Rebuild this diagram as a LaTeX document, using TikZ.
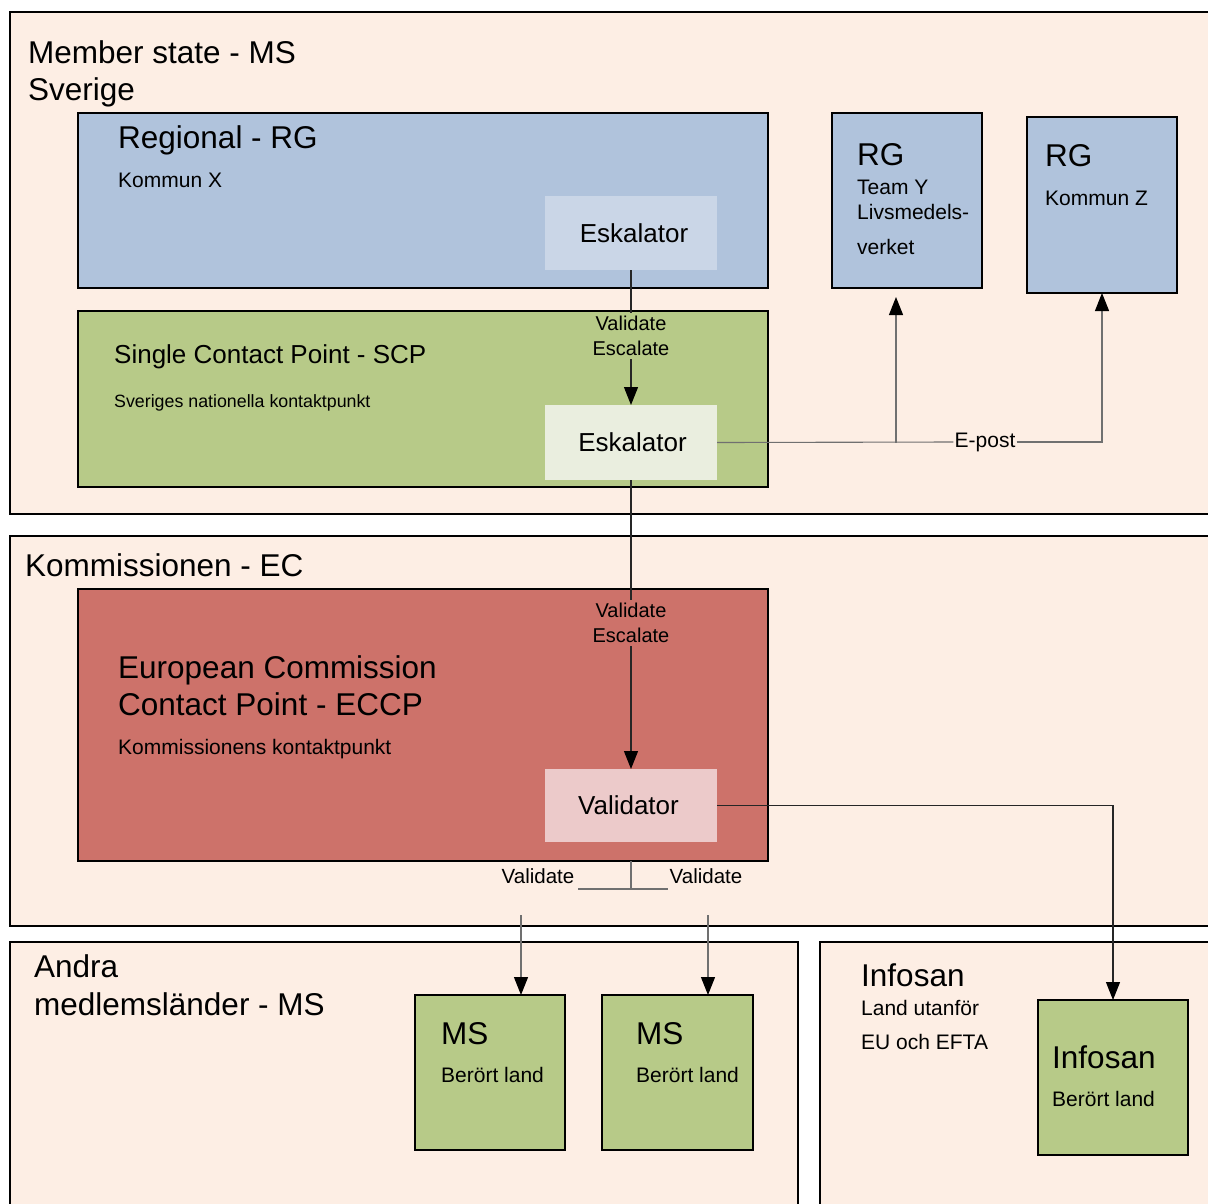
\documentclass[tikz,border=0pt]{standalone}
\usepackage{fontspec}
\setmainfont{Liberation Sans}
\usetikzlibrary{arrows.meta}
\definecolor{peach}{HTML}{FDEEE4}
\definecolor{rgblue}{HTML}{B0C3DC}
\definecolor{rgblight}{HTML}{CAD6E7}
\definecolor{scpgreen}{HTML}{B7CA88}
\definecolor{greenlight}{HTML}{EAEEDF}
\definecolor{ecred}{HTML}{CD726A}
\definecolor{redlight}{HTML}{ECCACA}
\definecolor{lgrey}{HTML}{707070}
\begin{document}
\begin{tikzpicture}[x=1pt,y=-1pt,
  area/.style={draw=black, line width=1.5pt, fill=peach, anchor=north west, inner sep=0pt, outer sep=0pt},
  box/.style={draw=black, line width=1.5pt, anchor=north west, inner sep=0pt, outer sep=0pt},
  sub/.style={anchor=north west, inner sep=0pt, outer sep=0pt, font=\fontsize{26}{31}\selectfont},
  big/.style={anchor=base west, inner sep=0pt, font=\fontsize{31.5}{38}\selectfont},
  mid/.style={anchor=base west, inner sep=0pt, font=\fontsize{26}{31}\selectfont},
  small/.style={anchor=base west, inner sep=0pt, font=\fontsize{21}{25}\selectfont},
  tiny/.style={anchor=base west, inner sep=0pt, font=\fontsize{17.8}{21}\selectfont},
  flowlbl/.style={align=center, inner sep=3pt, font=\fontsize{20}{25}\selectfont},
  conn/.style={draw=black!85, line width=1.1pt},
  gconn/.style={draw=lgrey, line width=1.1pt},
  tip/.style={-{Triangle[length=18pt,width=14pt,color=black]}}
]
\clip (0,0) rectangle (1208,1203);
\fill[white] (0,0) rectangle (1208,1203);

% outer areas
\node[area, minimum width=1220pt, minimum height=502pt] (msarea) at (10,12) {};
\node[area, minimum width=1220pt, minimum height=390pt] (ecarea) at (10,536) {};
\node[area, minimum width=788pt, minimum height=320pt] (andraarea) at (10,942) {};
\node[area, minimum width=400pt, minimum height=320pt] (infarea) at (820,942) {};

\node[big] (t1) at (28,63) {Member state - MS};
\node[big] (t2) at (28,100) {Sverige};
\node[big] (t3) at (25,576) {Kommissionen - EC};
\node[big] (t4) at (34,977) {Andra};
\node[big] (t5) at (34,1015) {medlemsländer - MS};
\node[big] (t6) at (861,986) {Infosan};
\node[small] (t7) at (861,1015) {Land utanför};
\node[small] (t8) at (861,1049) {EU och EFTA};

% regional
\node[box, fill=rgblue, minimum width=690pt, minimum height=175pt] (rg) at (78,113) {};
\node[big] (rgt) at (118,148) {Regional - RG};
\node[small] (rgs) at (118,187) {Kommun X};
\node[sub, fill=rgblight, minimum width=172pt, minimum height=74pt, text depth=0pt] (esk1) at (545,196) {\hspace*{6pt}Eskalator};

% SCP
\node[box, fill=scpgreen, minimum width=690pt, minimum height=176pt] (scp) at (78,311) {};
\node[mid] (scpt) at (114,363) {Single Contact Point - SCP};
\node[tiny] (scps) at (114,407) {Sveriges nationella kontaktpunkt};
\node[sub, fill=greenlight, minimum width=172pt, minimum height=75pt] (esk2) at (545,405) {\hspace*{3pt}Eskalator};

% RG boxes right
\node[box, fill=rgblue, minimum width=150pt, minimum height=175pt] (rgy) at (832,113) {};
\node[big] (rgyt) at (857,165) {RG};
\node[small] (rgy1) at (857,194) {Team Y};
\node[small] (rgy2) at (857,219) {Livsmedels-};
\node[small] (rgy3) at (857,254) {verket};
\node[box, fill=rgblue, minimum width=150pt, minimum height=176pt] (rgz) at (1027,117) {};
\node[big] (rgzt) at (1045,166) {RG};
\node[small] (rgz1) at (1045,205) {Kommun Z};

% ECCP
\node[box, fill=ecred, minimum width=690pt, minimum height=272pt] (eccp) at (78,589) {};
\node[big] (ec1) at (118,678) {European Commission};
\node[big] (ec2) at (118,715) {Contact Point - ECCP};
\node[small] (ec3) at (118,754) {Kommissionens kontaktpunkt};
\node[sub, fill=redlight, minimum width=172pt, minimum height=73pt] (val) at (545,769) {Validator\hspace*{5pt}};

% MS boxes
\node[box, fill=scpgreen, minimum width=150pt, minimum height=155pt] (ms1) at (415,995) {};
\node[big] (ms1t) at (441,1044) {MS};
\node[small] (ms1s) at (441,1082) {Berört land};
\node[box, fill=scpgreen, minimum width=151pt, minimum height=155pt] (ms2) at (602,995) {};
\node[big] (ms2t) at (636,1044) {MS};
\node[small] (ms2s) at (636,1082) {Berört land};

% Infosan inner
\node[box, fill=scpgreen, minimum width=150pt, minimum height=155pt] (inf) at (1038,1000) {};
\node[big] (inft) at (1052,1068) {Infosan};
\node[small] (infs) at (1052,1106) {Berört land};

% connectors
\node[flowlbl] (lbl1) at (631,336) {Validate\\Escalate};
\draw[conn] (esk1.south) -- (lbl1.north);
\draw[conn, tip] (lbl1.south) -- (esk2.north);

\node[flowlbl] (lbl2) at (631,623) {Validate\\Escalate};
\draw[conn] (esk2.south) -- (lbl2.north);
\draw[conn, tip] (lbl2.south) -- (val.north);

\node[inner sep=1pt, font=\fontsize{21}{25}\selectfont] (epost) at (985,442) {E-post};
\coordinate (jy) at (896,442.5);
\coordinate (rgyin) at (896,289);
\draw[gconn] (esk2.east) -- (epost.west);
\draw[gconn, tip, shorten >=8pt] (jy) -- (rgyin);
\draw[gconn, tip] (epost.east) -| (rgz.south);

\draw[conn, tip] (val.east) -| (inf.north);

\coordinate (vj) at (631,889);
\coordinate (vl) at (578,889);
\coordinate (vr) at (668,889);
\draw[gconn] (val.south |- eccp.south) -- (vj);
\draw[gconn] (vl) -- (vr);
\node[anchor=base, inner sep=0pt, font=\fontsize{20.5}{25}\selectfont] (vlt) at (538,883) {Validate};
\node[anchor=base, inner sep=0pt, font=\fontsize{20.5}{25}\selectfont] (vrt) at (706,883) {Validate};
\coordinate (a1) at (521,915);
\coordinate (a2) at (708,915);
\draw[gconn, tip] (a1) -- (a1 |- ms1.north);
\draw[gconn, tip] (a2) -- (a2 |- ms2.north);
\end{tikzpicture}
\end{document}
